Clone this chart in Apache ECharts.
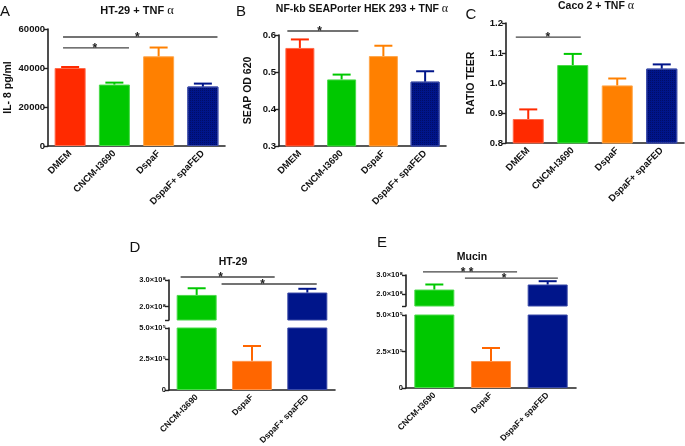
<!DOCTYPE html>
<html><head><meta charset="utf-8">
<script src="https://cdn.jsdelivr.net/npm/echarts@6/dist/echarts.min.js"></script>
<style>html,body{margin:0;padding:0;background:#fff}#c{width:685px;height:446px}</style>
</head><body><div id="c"></div>
<script>
// ---- data ----
const catsABC = ['DMEM', 'CNCM-I3690', 'DspaF', 'DspaF+ spaFED'];
const il8 = [40000, 31500, 46000, 30500];
const il8Err = [40500, 32500, 50500, 32000];
const seap = [0.565, 0.48, 0.543, 0.474];
const seapErr = [0.588, 0.493, 0.571, 0.502];
const teer = [0.88, 1.06, 0.992, 1.048];
const teerErr = [0.912, 1.097, 1.015, 1.062];
const catsDE = ['CNCM-I3690', 'DspaF', 'DspaF+ spaFED'];
const cfuHT = [2.44e8, 2.35e5, 2.53e8];
const cfuHTErr = [2.69e8, 3.55e5, 2.67e8];
const cfuMuc = [2.25e8, 1.85e5, 2.51e8];
const cfuMucErr = [2.51e8, 2.74e5, 2.68e8];
// significance: [start(cat units), end(cat units), y, star position(cat units), text]
const sigA = [[-0.16, 1.33, 50300, 0.56, '*'], [-0.16, 3.33, 55900, 1.52, '*']];
const sigB = [[-0.3, 1.4, 0.611, 0.47, '*']];
const sigC = [[-0.28, 1.18, 1.153, 0.44, '*']];
const sigD = [[-0.29, 1.41, 3.11e8, 0.43, '*'], [0.45, 2.17, 2.85e8, 1.19, '*']];
const sigE = [[-0.2, 1.46, 3.16e8, 0.58, '* *'], [0.54, 2.18, 2.84e8, 1.23, '*']];
const topTicks = [2e8, 3e8];

// ---- styles ----
const colsABC = ['#ff2a00', '#00c800', '#ff8000', '#00158a'];
const colsDE = ['#00c800', '#ff6600', '#00158a'];
const borderABC = ['#ff6a4a', '#4ada4a', '#ffa64a', '#3a4aa8'];
const borderDE = ['#4ada4a', '#ff944a', '#3a4aa8'];
const FF = 'Liberation Sans';
const AX = '#222';

const chart = echarts.init(document.getElementById('c'), null, {renderer: 'canvas'});

const gridBoxes = [
  {left: 48, top: 29, width: 177, height: 117},
  {left: 279, top: 35, width: 167, height: 111},
  {left: 506, top: 23, width: 178, height: 120},
  {left: 169, top: 280, width: 166, height: 40},
  {left: 169, top: 328, width: 166, height: 62},
  {left: 406, top: 275, width: 170, height: 31},
  {left: 406, top: 315, width: 170, height: 73}
];
const grids = gridBoxes.map(g => Object.assign({containLabel: false, outerBoundsMode: 'none'}, g));

function xAx(gi, cats, show, fs) {
  return {
    type: 'category', gridIndex: gi, data: cats, show: show,
    axisLine: {lineStyle: {color: AX, width: 1.6}},
    axisTick: {alignWithLabel: true, length: 4, lineStyle: {color: AX, width: 1.4}},
    axisLabel: {rotate: 45, interval: 0, fontSize: fs, fontWeight: 'bold', color: '#111', fontFamily: FF, margin: 6}
  };
}
function yAx(gi, o) {
  return Object.assign({
    type: 'value', gridIndex: gi, splitLine: {show: false},
    axisLine: {show: true, lineStyle: {color: AX, width: 1.6}},
    axisTick: {show: true, length: 4, lineStyle: {color: AX, width: 1.4}},
    nameLocation: 'middle', nameTextStyle: {fontSize: 10.5, fontWeight: 'bold', color: '#111', fontFamily: FF}
  }, o);
}
const bigLab = f => ({fontSize: 9.5, fontWeight: 'bold', color: '#111', fontFamily: FF, margin: 3, formatter: f});

const fmtTop = v => (v / 1e8).toFixed(1) + '×10⁸';
const fmtBot = v => v === 0 ? '0' : (v / 1e5).toFixed(1) + '×10⁵';

const xAxis = [
  xAx(0, catsABC, true, 9.5), xAx(1, catsABC, true, 9.5), xAx(2, catsABC, true, 9.5),
  xAx(3, catsDE, false, 8.5), xAx(4, catsDE, true, 8.5),
  xAx(5, catsDE, false, 8.5), xAx(6, catsDE, true, 8.5)
];
const smallLab = {fontSize: 7.5, fontWeight: 'bold', color: '#111', fontFamily: FF, margin: 3};
const yAxis = [
  yAx(0, {min: 0, max: 60000, interval: 20000, name: 'IL- 8 pg/ml', nameGap: 34, axisLabel: bigLab(v => String(v))}),
  yAx(1, {min: 0.3, max: 0.6, interval: 0.1, name: 'SEAP OD 620', nameGap: 25, axisLabel: bigLab(v => v.toFixed(1))}),
  yAx(2, {min: 0.8, max: 1.2, interval: 0.1, name: 'RATIO TEER', nameGap: 29, axisLabel: bigLab(v => v.toFixed(1))}),
  yAx(3, {min: 1.5e8, max: 3e8,
    axisTick: {show: true, length: 4, lineStyle: {color: AX, width: 1.4}, customValues: [1.5e8, 2e8, 3e8]},
    axisLabel: Object.assign({formatter: fmtTop, customValues: topTicks}, smallLab)}),
  yAx(4, {min: 0, max: 5e5, interval: 2.5e5,
    axisLabel: Object.assign({formatter: fmtBot}, smallLab)}),
  yAx(5, {min: 1.4e8, max: 3e8,
    axisTick: {show: true, length: 4, lineStyle: {color: AX, width: 1.4}, customValues: [1.4e8, 2e8, 3e8]},
    axisLabel: Object.assign({formatter: fmtTop, customValues: topTicks}, smallLab)}),
  yAx(6, {min: 0, max: 5e5, interval: 2.5e5,
    axisLabel: Object.assign({formatter: fmtBot}, smallLab)})
];

const decal = {symbol: 'rect', symbolSize: 1, dashArrayX: [1, 1], dashArrayY: [1, 1], color: 'rgba(0,0,40,0.35)'};

function barSeries(gi, vals, cols, borders, bw, lo, useDecal) {
  return {
    type: 'bar', xAxisIndex: gi, yAxisIndex: gi, barWidth: bw, clip: true, silent: true,
    data: vals.map((v, i) => ({
      value: (v < lo) ? '-' : v,
      itemStyle: Object.assign({color: cols[i], borderColor: borders[i], borderWidth: 1},
        (useDecal && i === 3) ? {decal: decal} : {})
    }))
  };
}
function errSeries(gi, vals, errs, cols, lo, hi) {
  const items = [];
  vals.forEach((v, i) => { if (v >= lo && errs[i] <= hi) items.push([i, v, errs[i]]); });
  return {
    type: 'custom', xAxisIndex: gi, yAxisIndex: gi, silent: true, z: 5,
    data: items,
    renderItem: function (params, api) {
      const i = api.value(0);
      const p0 = api.coord([i, api.value(1)]);
      const p1 = api.coord([i, api.value(2)]);
      const c = cols[items[params.dataIndex][0]];
      const st = {stroke: c, lineWidth: 2};
      return {type: 'group', children: [
        {type: 'line', shape: {x1: p0[0], y1: p0[1], x2: p1[0], y2: p1[1]}, style: st},
        {type: 'line', shape: {x1: p1[0] - 9, y1: p1[1], x2: p1[0] + 9, y2: p1[1]}, style: st}
      ]};
    }
  };
}
function sigSeries(gi, sig) {
  return {
    type: 'custom', xAxisIndex: gi, yAxisIndex: gi, silent: true, z: 6, clip: false,
    data: sig.map(s => [0, s[2]]),
    renderItem: function (params, api) {
      const s = sig[params.dataIndex];
      const base = api.coord([0, api.value(1)]);
      const band = api.size([1, 0])[0];
      const x1 = base[0] + s[0] * band, x2 = base[0] + s[1] * band, xs = base[0] + s[3] * band;
      const y = base[1];
      return {type: 'group', children: [
        {type: 'line', shape: {x1: x1, y1: y, x2: x2, y2: y}, style: {stroke: '#444', lineWidth: 1.4}},
        {type: 'text', style: {text: s[4], x: xs, y: y + 1, font: 'bold 12px ' + FF, fill: '#222',
          textAlign: 'center', textVerticalAlign: 'middle', align: 'center', verticalAlign: 'middle'}}
      ]};
    }
  };
}

const series = [
  barSeries(0, il8, colsABC, borderABC, 31, -Infinity, true),
  errSeries(0, il8, il8Err, colsABC, -Infinity, Infinity),
  sigSeries(0, sigA),
  barSeries(1, seap, colsABC, borderABC, 29, -Infinity, true),
  errSeries(1, seap, seapErr, colsABC, -Infinity, Infinity),
  sigSeries(1, sigB),
  barSeries(2, teer, colsABC, borderABC, 31, -Infinity, true),
  errSeries(2, teer, teerErr, colsABC, -Infinity, Infinity),
  sigSeries(2, sigC),
  barSeries(3, cfuHT, colsDE, borderDE, 40, 1.5e8, false),
  errSeries(3, cfuHT, cfuHTErr, colsDE, 1.5e8, 3e8),
  sigSeries(3, sigD),
  barSeries(4, cfuHT, colsDE, borderDE, 40, 0, false),
  errSeries(4, cfuHT, cfuHTErr, colsDE, 0, 5e5),
  barSeries(5, cfuMuc, colsDE, borderDE, 40, 1.4e8, false),
  errSeries(5, cfuMuc, cfuMucErr, colsDE, 1.4e8, 3e8),
  sigSeries(5, sigE),
  barSeries(6, cfuMuc, colsDE, borderDE, 40, 0, false),
  errSeries(6, cfuMuc, cfuMucErr, colsDE, 0, 5e5)
];

function txt(t, x, y, font, extra) {
  return Object.assign({type: 'text', style: {text: t, x: x, y: y, font: font, fill: '#111',
    textAlign: 'center', textVerticalAlign: 'middle', align: 'center', verticalAlign: 'middle'}}, extra || {});
}
function titleTxt(t, x, y, alpha, fs) {
  return {type: 'text', style: {text: '{b|' + t + '}' + (alpha ? '{a|α}' : ''), x: x, y: y,
    textAlign: 'center', textVerticalAlign: 'middle', align: 'center', verticalAlign: 'middle',
    rich: {b: {font: 'bold ' + fs + 'px ' + FF, fill: '#111'}, a: {font: (fs + 1.5) + 'px Liberation Serif', fill: '#111'}}}};
}
const letterFont = '15px ' + FF;
const graphic = [
  txt('A', 5, 12, letterFont), txt('B', 241, 12, letterFont), txt('C', 471, 15, letterFont),
  txt('D', 135, 248, letterFont), txt('E', 382, 243, letterFont),
  titleTxt('HT-29 + TNF ', 137, 11, true, 11),
  titleTxt('NF-kb SEAPorter HEK 293 + TNF ', 362, 9, true, 10.5),
  titleTxt('Caco 2 + TNF ', 596, 6, true, 10.5),
  titleTxt('HT-29', 233, 262, false, 10.5),
  titleTxt('Mucin', 472, 257, false, 10.5),
  txt('Cfu / well', 125, 333, 'bold 10px ' + FF, {rotation: Math.PI / 2}),
  txt('Cfu / well', 360, 335, 'bold 10px ' + FF, {rotation: Math.PI / 2})
];

chart.setOption({
  animation: false,
  grid: grids,
  xAxis: xAxis,
  yAxis: yAxis,
  series: series,
  graphic: graphic
});
</script></body></html>
